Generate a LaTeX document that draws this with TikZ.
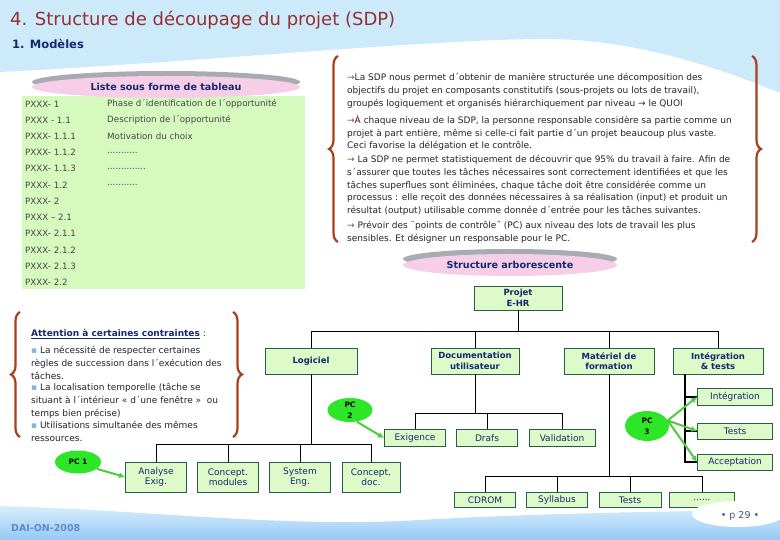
\documentclass[tikz,border=0pt]{standalone}
\usepackage{fontspec}
\setmainfont{DejaVu Sans}
\usetikzlibrary{arrows.meta,positioning,shapes.geometric,decorations.pathreplacing}
\definecolor{skyband}{RGB}{205,234,251}
\definecolor{skydeep}{RGB}{150,200,245}
\definecolor{titlered}{RGB}{150,48,48}
\definecolor{navy}{RGB}{20,40,110}
\definecolor{inktext}{RGB}{35,35,45}
\definecolor{leaf}{RGB}{221,250,200}
\definecolor{leafline}{RGB}{35,95,75}
\definecolor{tablegreen}{RGB}{214,250,190}
\definecolor{pcgreen}{RGB}{45,230,40}
\definecolor{arrgreen}{RGB}{75,205,60}
\definecolor{bracered}{RGB}{170,62,30}
\definecolor{pinkcap}{RGB}{246,206,232}
\definecolor{capshadow}{RGB}{168,172,178}
\definecolor{bulletblue}{RGB}{130,180,225}
\definecolor{footblue}{RGB}{90,140,200}
\newcommand{\bodyfont}{\fontsize{9}{12.7}\selectfont}
\newcommand{\rowfont}{\fontsize{8.7}{10}\selectfont}
\newcommand{\treefont}{\fontsize{9}{10.5}\selectfont}
\newcommand{\treebold}{\fontsize{8.5}{10.5}\selectfont\bfseries}
\newcommand{\pcfont}{\fontsize{7.5}{11}\selectfont\bfseries}
\newcommand{\capfont}{\fontsize{9.6}{11}\selectfont\bfseries}
\newcommand{\rowdots}[1]{\foreach \j in {1,...,#1}{.}}
\tikzset{
  tbox/.style={rectangle, draw=leafline, line width=0.8pt, fill=leaf, align=center,
               inner sep=0pt, font=\treefont, text=navy},
  pcell/.style={ellipse, fill=pcgreen, inner sep=0pt, minimum width=46pt,
                minimum height=23pt, font=\pcfont, align=center},
  pcarr/.style={-{Latex[length=6pt,width=6pt]}, draw=arrgreen, line width=2pt},
  link/.style={draw=black, line width=0.8pt},
  trunk/.style={draw=black, line width=2.4pt},
  brace/.style={decorate, decoration={brace, amplitude=9pt}, draw=bracered, line width=2.2pt},
  capsule/.style={ellipse, fill=pinkcap, inner sep=0pt, font=\capfont, text=navy},
  para/.style={anchor=north west, align=left, inner sep=0pt, font=\bodyfont, text=inktext},
  rowcell/.style={anchor=west, inner sep=0pt, font=\rowfont, text=inktext!85},
}

\begin{document}
\begin{tikzpicture}[x=1pt,y=-1pt]
\useasboundingbox (0,0) rectangle (780,540);

% ===================== background ========================================
\fill[skyband] (0,0) -- (780,0) -- (780,93) .. controls (700,60) and (620,38) .. (540,39)
  .. controls (420,40) and (200,62) .. (0,72) -- cycle;

\node[anchor=west, inner sep=0pt, font=\fontsize{18}{20}\selectfont, text=titlered] (title)
  at (10,20) {4. Structure de découpage du projet (SDP)};
\node[anchor=west, inner sep=0pt, font=\fontsize{11.5}{13}\selectfont\bfseries, text=navy] (sub)
  at (12,44) {1. Modèles};

% ===================== 1. the list as a table ============================
\fill[tablegreen] (22,96) rectangle (305,289);
\fill[capshadow] (166,82) ellipse [x radius=134, y radius=11];
\node[capsule, minimum width=268pt, minimum height=22pt] (listcap) at (166,87)
  {Liste sous forme de tableau};
\foreach \rowid/\rowlbl [count=\i from 0] in {
    PXXX- 1/Phase d´identification de l´opportunité,
    PXXX - 1.1/Description de l´opportunité,
    PXXX- 1.1.1/ Motivation du choix,
    PXXX- 1.1.2/\rowdots{11},
    PXXX- 1.1.3/\rowdots{14},
    PXXX- 1.2/\rowdots{11},
    PXXX- 2/{},
    PXXX – 2.1/{},
    PXXX- 2.1.1/{},
    PXXX- 2.1.2/{},
    PXXX- 2.1.3/{},
    PXXX- 2.2/{}}
{
  \node[rowcell] (code\i) at (25,104+16.2*\i) {\rowid};
  \node[rowcell] (desc\i) at (107,104+16.2*\i) {\rowlbl};
}

% ===================== 2. what the SDP gives =============================
\draw[brace] (338,242) -- (338,56);
\draw[brace] (752,56) -- (752,242);
\node[para] (p1) at (347,73.5)
  {\textcolor{bracered}{→}La SDP nous permet d´obtenir de manière structurée une décomposition des\\
   objectifs du projet en composants constitutifs (sous-projets ou lots de travail),\\
   groupés logiquement et organisés hiérarchiquement par niveau → le QUOI};
\node[para] (p2) at (347,115)
  {\textcolor{bracered}{→}À chaque niveau de la SDP, la personne responsable considère sa partie comme un\\
   projet à part entière, même si celle-ci fait partie d´un projet beaucoup plus vaste.\\
   Ceci favorise la délégation et le contrôle.};
\node[para] (p3) at (347,155.5)
  {\textcolor{bracered}{→} La SDP ne permet statistiquement de découvrir que 95\% du travail à faire. Afin de\\
   s´assurer que toutes les tâches nécessaires sont correctement identifiées et que les\\
   tâches superflues sont éliminées, chaque tâche doit être considérée comme un\\
   processus : elle reçoit des données nécessaires à sa réalisation (input) et produit un\\
   résultat (output) utilisable comme donnée d´entrée pour les tâches suivantes.};
\node[para] (p4) at (347,221.5)
  {\textcolor{bracered}{→} Prévoir des ¨points de contrôle˝ (PC) aux niveau des lots de travail les plus\\
   sensibles. Et désigner un responsable pour le PC.};

% ===================== 3. constraints ====================================
\draw[brace] (20,437) -- (20,312);
\draw[brace] (233,312) -- (233,437);
\node[para] (attn) at (31,329)
  {\textcolor{navy}{\textbf{\underline{Attention à certaines contraintes}}} :};
\node[para] (k1) at (31,346.5)
  {\textcolor{bulletblue}{▪} La nécessité de respecter certaines\\
   règles de succession dans l´exécution des\\tâches.};
\node[para] (k2) at (31,383.5)
  {\textcolor{bulletblue}{▪} La localisation temporelle (tâche se\\
   situant à l´intérieur « d´une fenêtre »~ ou\\temps bien précise)};
\node[para] (k3) at (31,421.5)
  {\textcolor{bulletblue}{▪} Utilisations simultanée des mêmes\\ressources.};

% ===================== 4. the tree =======================================
\node[ellipse, fill=capshadow, minimum width=214pt, minimum height=20pt] (treeshade) at (510,259) {};
\node[capsule, minimum width=214pt, minimum height=22pt] (treecap) at (510,265)
  {Structure arborescente};

\node[tbox, font=\treebold, minimum width=88pt, minimum height=24pt] (proj) at (518,298) {Projet\\E-HR};

\node[tbox, font=\treebold, minimum width=92pt, minimum height=26pt] (logi) at (311,361) {Logiciel};
\node[tbox, font=\treebold, minimum width=88pt, minimum height=26pt] (docu) at (475,361) {Documentation\\utilisateur};
\node[tbox, font=\treebold, minimum width=90pt, minimum height=26pt] (mate) at (609,361) {Matériel de\\formation};
\node[tbox, font=\treebold, minimum width=90pt, minimum height=26pt] (integ) at (718,361) {Intégration\\\& tests};
\foreach \n in {logi,docu,mate,integ}
  \draw[link] (proj.south) -- ++(0,21) -| (\n.north);

% under Logiciel
\node[tbox, minimum width=61pt, minimum height=30pt] (anal) at (156,477) {Analyse\\Exig.};
\node[tbox, minimum width=61pt, minimum height=30pt] (cmod) at (228,477) {Concept.\\modules};
\node[tbox, minimum width=61pt, minimum height=30pt] (syse) at (300,477) {System\\Eng.};
\node[tbox, minimum width=58pt, minimum height=30pt] (cdoc) at (371,477) {Concept.\\doc.};
\foreach \n in {anal,cmod,syse,cdoc}
  \draw[link] (logi.south) -- ++(0,70) -| (\n.north);

% under Documentation utilisateur
\node[tbox, minimum width=61pt, minimum height=17pt] (exig) at (415,438) {Exigence};
\node[tbox, minimum width=61pt, minimum height=17pt] (draf) at (487,438) {Drafs};
\node[tbox, minimum width=66pt, minimum height=17pt] (vali) at (562,438) {Validation};
\foreach \n in {exig,draf,vali}
  \draw[link] (docu.south) -- ++(0,39) -| (\n.north);

% under Matériel de formation
\node[tbox, minimum width=61pt, minimum height=15pt] (cdro) at (485,500) {CDROM};
\node[tbox, minimum width=61pt, minimum height=15pt] (syll) at (557,500) {Syllabus};
\node[tbox, minimum width=62pt, minimum height=15pt] (test) at (630,500) {Tests};
\node[tbox, minimum width=65pt, minimum height=15pt] (more) at (702,500) {\rowdots{6}};
\foreach \n in {cdro,syll,test,more}
  \draw[link] (mate.south) -- ++(0,102) -| (\n.north);

% under Intégration & tests (thick trunk)
\node[tbox, minimum width=75pt, minimum height=17pt] (iint) at (735,397) {Intégration};
\node[tbox, minimum width=75pt, minimum height=16pt] (itst) at (735,431) {Tests};
\node[tbox, minimum width=75pt, minimum height=16pt] (iacc) at (735,462) {Acceptation};
\foreach \n in {iint,itst,iacc}
  \draw[trunk] ([xshift=-33pt]integ.south) |- (\n.west);

% ---- control points ----------------------------------------------------
\node[pcell] (pc1) at (78,462) {PC 1};
\node[pcell, minimum width=45pt, minimum height=24pt] (pc2) at (350,410) {PC\\2};
\node[pcell, minimum width=44pt, minimum height=30pt] (pc3) at (647,426) {PC\\3};
\draw[pcarr] (pc1.-20) -- (anal.west);
\draw[pcarr] (pc2.-60) -- (exig.west);
\foreach \n in {iint,itst,iacc}
  \draw[pcarr] (pc3.15) -- (\n.west);

% ===================== footer ============================================
\shade[top color=skyband!80, bottom color=skydeep] (0,506) .. controls (150,510) and (280,528) .. (420,520)
  .. controls (520,514) and (640,512) .. (700,511) -- (780,509) -- (780,540) -- (0,540) -- cycle;
\fill[white] (738,514) ellipse [x radius=46, y radius=13];
\node[anchor=west, inner sep=0pt, font=\fontsize{9.5}{11}\selectfont\bfseries, text=footblue] (foot)
  at (11,528) {DAI-ON-2008};
\node[inner sep=0pt, font=\fontsize{9.5}{11}\selectfont, text=navy!80] (page) at (740,516) {• p 29 •};

\end{tikzpicture}
\end{document}
